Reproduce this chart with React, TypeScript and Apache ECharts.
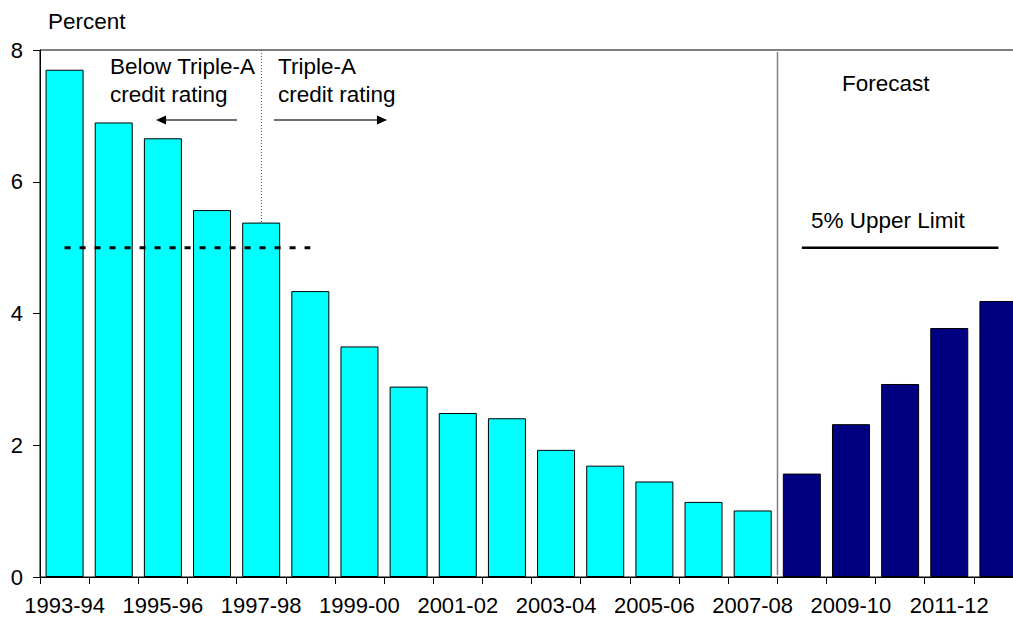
import React, { useEffect, useRef } from "react";
import * as echarts from "echarts";

// Fiscal years shown on the category axis
const categories = [
  "1993-94", "1994-95", "1995-96", "1996-97", "1997-98",
  "1998-99", "1999-00", "2000-01", "2001-02", "2002-03",
  "2003-04", "2004-05", "2005-06", "2006-07", "2007-08",
  "2008-09", "2009-10", "2010-11", "2011-12", "2012-13",
];

// Outturn values (percent), 1993-94 to 2007-08
const actualValues = [
  7.70, 6.90, 6.66, 5.57, 5.38, 4.34, 3.50, 2.89, 2.49, 2.41,
  1.93, 1.69, 1.45, 1.14, 1.01,
];

// Forecast values (percent), 2008-09 to 2012-13
const forecastValues = [1.57, 2.32, 2.93, 3.78, 4.19];

// Value axis range and step
const yMin = 0;
const yMax = 8;
const yStep = 2;

// Reference levels
const earlierLimit = 5;   // dashed guide over the early years
const upperLimit = 5;     // 5% upper limit over the forecast years
const earlierLimitSpan = [0, 5];   // first and last category index of the dashed guide
const upperLimitSpan = [15, 19];   // first and last category index of the upper limit
const ratingChangeIndex = 4;       // 1997-98: credit rating moves to Triple-A
const forecastStartIndex = 15;     // 2008-09

const FONT = "Liberation Sans, Arial, Helvetica, sans-serif";

function spanData(span: number[], value: number): (number | null)[] {
  return categories.map((_, i) => (i >= span[0] && i <= span[1] ? value : null));
}

export default function App() {
  const ref = useRef<HTMLDivElement>(null);

  useEffect(() => {
    if (!ref.current) return;
    const chart = echarts.init(ref.current, undefined, { renderer: "svg" });

    const actualData = categories.map((_, i) => (i < actualValues.length ? actualValues[i] : null));
    const forecastData = categories.map((_, i) =>
      i >= actualValues.length ? forecastValues[i - actualValues.length] : null
    );

    chart.setOption({
      animation: false,
      backgroundColor: "#ffffff",
      textStyle: { fontFamily: FONT },
      grid: {
        left: 40,
        top: 50,
        width: 983,
        height: 527,
        containLabel: false,
        outerBoundsMode: "none",
        show: true,
        borderColor: "#000000",
        borderWidth: 1,
      },
      xAxis: {
        type: "category",
        data: categories,
        boundaryGap: true,
        axisLine: { show: true, lineStyle: { color: "#000000", width: 1 } },
        axisTick: { show: true, interval: 0, length: 7, lineStyle: { color: "#000000" } },
        axisLabel: {
          interval: 1,
          margin: 17,
          color: "#000000",
          fontSize: 22,
          fontFamily: FONT,
        },
        splitLine: { show: false },
      },
      yAxis: {
        type: "value",
        min: yMin,
        max: yMax,
        interval: yStep,
        axisLine: { show: true, lineStyle: { color: "#000000", width: 1 } },
        axisTick: { show: true, length: 7, lineStyle: { color: "#000000" } },
        axisLabel: { margin: 17, color: "#000000", fontSize: 22, fontFamily: FONT },
        splitLine: { show: false },
      },
      series: [
        {
          name: "Outturn",
          type: "bar",
          data: actualData,
          barWidth: 38,
          barGap: "-100%",
          itemStyle: { color: "#00ffff", borderColor: "#000000", borderWidth: 1 },
          markLine: {
            silent: true,
            symbol: "none",
            label: { show: false },
            lineStyle: { color: "#555555", width: 1, type: [1, 2] },
            data: [
              [
                { coord: [ratingChangeIndex, yMax] },
                { coord: [ratingChangeIndex, actualValues[ratingChangeIndex]] },
              ],
            ],
          },
        },
        {
          name: "Forecast",
          type: "bar",
          data: forecastData,
          barWidth: 38,
          barGap: "-100%",
          itemStyle: { color: "#000080", borderColor: "#000000", borderWidth: 1 },
        },
        {
          name: "Earlier limit",
          type: "line",
          data: spanData(earlierLimitSpan, earlierLimit),
          symbol: "none",
          connectNulls: false,
          lineStyle: { color: "#000000", width: 3, type: [6, 9] },
          z: 5,
        },
        {
          name: "Upper limit",
          type: "line",
          data: spanData(upperLimitSpan, upperLimit),
          symbol: "none",
          connectNulls: false,
          lineStyle: { color: "#000000", width: 2.5 },
          z: 5,
        },
      ],
    });

    // Divider between outturn and forecast years, placed on the category boundary
    const a = chart.convertToPixel({ xAxisIndex: 0, yAxisIndex: 0 }, [forecastStartIndex - 1, yMax]) as number[];
    const b = chart.convertToPixel({ xAxisIndex: 0, yAxisIndex: 0 }, [forecastStartIndex, yMin]) as number[];
    const dividerX = Math.round((a[0] + b[0]) / 2) + 0.5;

    const textStyle = (text: string) => ({
      text,
      font: `22.5px ${FONT}`,
      fill: "#000000",
      align: "left",
      verticalAlign: "middle",
    });

    const arrowY = 120;

    chart.setOption({
      graphic: [
        {
          type: "line",
          silent: true,
          shape: { x1: dividerX, y1: a[1] + 2, x2: dividerX, y2: b[1] - 2 },
          style: { stroke: "#7f7f7f", lineWidth: 1.5 },
        },
        { type: "text", x: 48, y: 21, style: textStyle("Percent") },
        { type: "text", x: 110, y: 66, style: textStyle("Below Triple-A") },
        { type: "text", x: 110, y: 94, style: textStyle("credit rating") },
        { type: "text", x: 278, y: 66, style: textStyle("Triple-A") },
        { type: "text", x: 278, y: 94, style: textStyle("credit rating") },
        { type: "text", x: 842, y: 83, style: textStyle("Forecast") },
        { type: "text", x: 811, y: 220, style: textStyle("5% Upper Limit") },
        // left-pointing arrow
        {
          type: "line",
          silent: true,
          shape: { x1: 237, y1: arrowY, x2: 162, y2: arrowY },
          style: { stroke: "#404040", lineWidth: 1.5 },
        },
        {
          type: "polygon",
          silent: true,
          shape: { points: [[156, arrowY], [166, arrowY - 4.5], [166, arrowY + 4.5]] },
          style: { fill: "#000000" },
        },
        // right-pointing arrow
        {
          type: "line",
          silent: true,
          shape: { x1: 274, y1: arrowY, x2: 380, y2: arrowY },
          style: { stroke: "#404040", lineWidth: 1.5 },
        },
        {
          type: "polygon",
          silent: true,
          shape: { points: [[387, arrowY], [377, arrowY - 4.5], [377, arrowY + 4.5]] },
          style: { fill: "#000000" },
        },
      ],
    });

    return () => chart.dispose();
  }, []);

  return (
    <div
      ref={ref}
      style={{ position: "fixed", left: 0, top: 0, width: 1013, height: 619, background: "#ffffff" }}
    />
  );
}
